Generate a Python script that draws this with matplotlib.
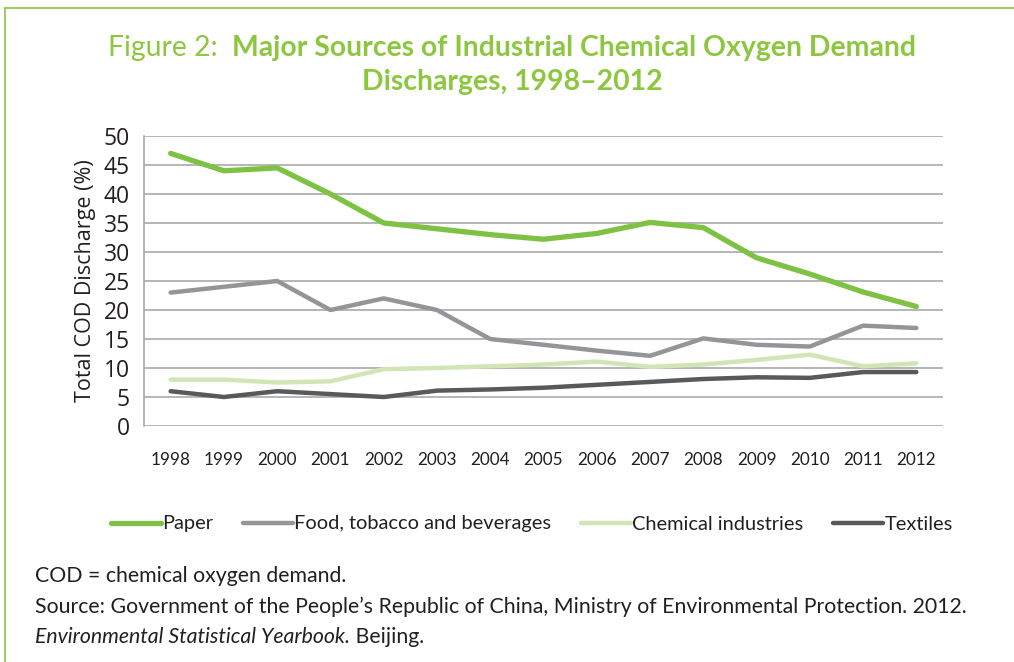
import matplotlib
matplotlib.use("Agg")
import matplotlib.pyplot as plt
from matplotlib.lines import Line2D

years = [str(y) for y in range(1998, 2013)]
paper = [47, 44, 44.5, 40, 35, 34, 33, 32.2, 33.2, 35.1, 34.2, 29, 26.2, 23.1, 20.6]
food = [23, 24, 25, 20, 22, 20, 15, 14, 13, 12.1, 15.1, 14, 13.7, 17.3, 16.9]
chemical = [8, 8, 7.5, 7.7, 9.8, 10, 10.3, 10.6, 11.1, 10.2, 10.6, 11.4, 12.3, 10.3, 10.8]
textiles = [6, 5, 6, 5.5, 5, 6.1, 6.3, 6.6, 7.1, 7.6, 8.1, 8.4, 8.3, 9.3, 9.3]

series_names = ["Paper", "Food, tobacco and beverages", "Chemical industries", "Textiles"]
series_colors = ["#7DC242", "#939598", "#D1E6B5", "#58595B"]
series_widths = [3.8, 3.2, 3.2, 3.2]

GREEN = "#8DC63F"
TEXT = "#231F20"
FONT = "Lato"

fig = plt.figure(figsize=(10.14, 6.62), dpi=100)
fig.patch.set_facecolor("white")

# green page frame on left and top
fig.add_artist(Line2D([5 / 1014, 5 / 1014], [0, 1 - 8 / 662], color=GREEN, lw=1.2,
                      transform=fig.transFigure))
fig.add_artist(Line2D([5 / 1014, 1], [1 - 8 / 662, 1 - 8 / 662], color=GREEN, lw=1.2,
                      transform=fig.transFigure))

ax = fig.add_axes([144 / 1014, 1 - 426 / 662, (943 - 144) / 1014, (426 - 136) / 662])
x = range(len(years))
for vals, name, col, lw in zip([paper, food, chemical, textiles], series_names,
                               series_colors, series_widths):
    ax.plot(x, vals, color=col, lw=lw, label=name, solid_capstyle="round",
            solid_joinstyle="round", zorder=3)

ax.set_xlim(-0.5, len(years) - 0.5)
ax.set_ylim(0, 50)
ax.set_yticks(range(0, 51, 5))
ax.set_xticks(list(x))
ax.set_xticklabels(years, fontsize=12.3, family=FONT, color=TEXT)
for lab in ax.get_yticklabels():
    lab.set_fontsize(16.5)
    lab.set_family("Open Sans")
    lab.set_color(TEXT)
ax.tick_params(axis="both", length=0)
ax.tick_params(axis="x", pad=19)
ax.tick_params(axis="y", pad=10)
ax.grid(axis="y", color="#A7A9AC", lw=1.2, zorder=0)
for s in ["top", "right", "bottom"]:
    ax.spines[s].set_visible(False)
ax.spines["left"].set_color("#A7A9AC")
ax.spines["left"].set_linewidth(1.2)
ax.set_ylabel("Total COD Discharge (%)", fontsize=15.5, family="Open Sans", color=TEXT,
              labelpad=6)

leg = fig.legend(loc="center", bbox_to_anchor=(532 / 1014, 1 - 524 / 662), ncol=4,
                 frameon=False, handlelength=2.5, handletextpad=0.05, columnspacing=1.5,
                 prop={"family": FONT, "size": 14.4})
for t in leg.get_texts():
    t.set_color(TEXT)

renderer = fig.canvas.get_renderer()


def inline_text(parts, x0, y0, ha="left"):
    # parts: list of (text, kwargs); placed one after another in pixel coords
    arts = []
    for txt, kw in parts:
        arts.append(fig.text(0, 0, txt, va="baseline", **kw))
    widths = [a.get_window_extent(renderer).width for a in arts]
    total = sum(widths)
    cx = x0 - total / 2 if ha == "center" else x0
    for a, w in zip(arts, widths):
        a.set_position((cx / 1014, 1 - y0 / 662))
        cx += w


title_kw = dict(family=FONT, size=20.4, color=GREEN)
inline_text([("Figure 2:  ", title_kw),
             ("Major Sources of Industrial Chemical Oxygen Demand",
              dict(title_kw, weight="bold"))], 512, 56, ha="center")
inline_text([("Discharges, 1998\u20132012", dict(title_kw, weight="bold"))], 512, 90,
            ha="center")

foot_kw = dict(family=FONT, size=15.3, color=TEXT)
inline_text([("COD = chemical oxygen demand.", foot_kw)], 35, 582)
inline_text([("Source: Government of the People\u2019s Republic of China, Ministry of "
              "Environmental Protection. 2012.", foot_kw)], 35, 613)
inline_text([("Environmental Statistical Yearbook.", dict(foot_kw, style="italic")),
             (" Beijing.", foot_kw)], 35, 643)

fig.savefig("out.png", dpi=100, facecolor="white")
